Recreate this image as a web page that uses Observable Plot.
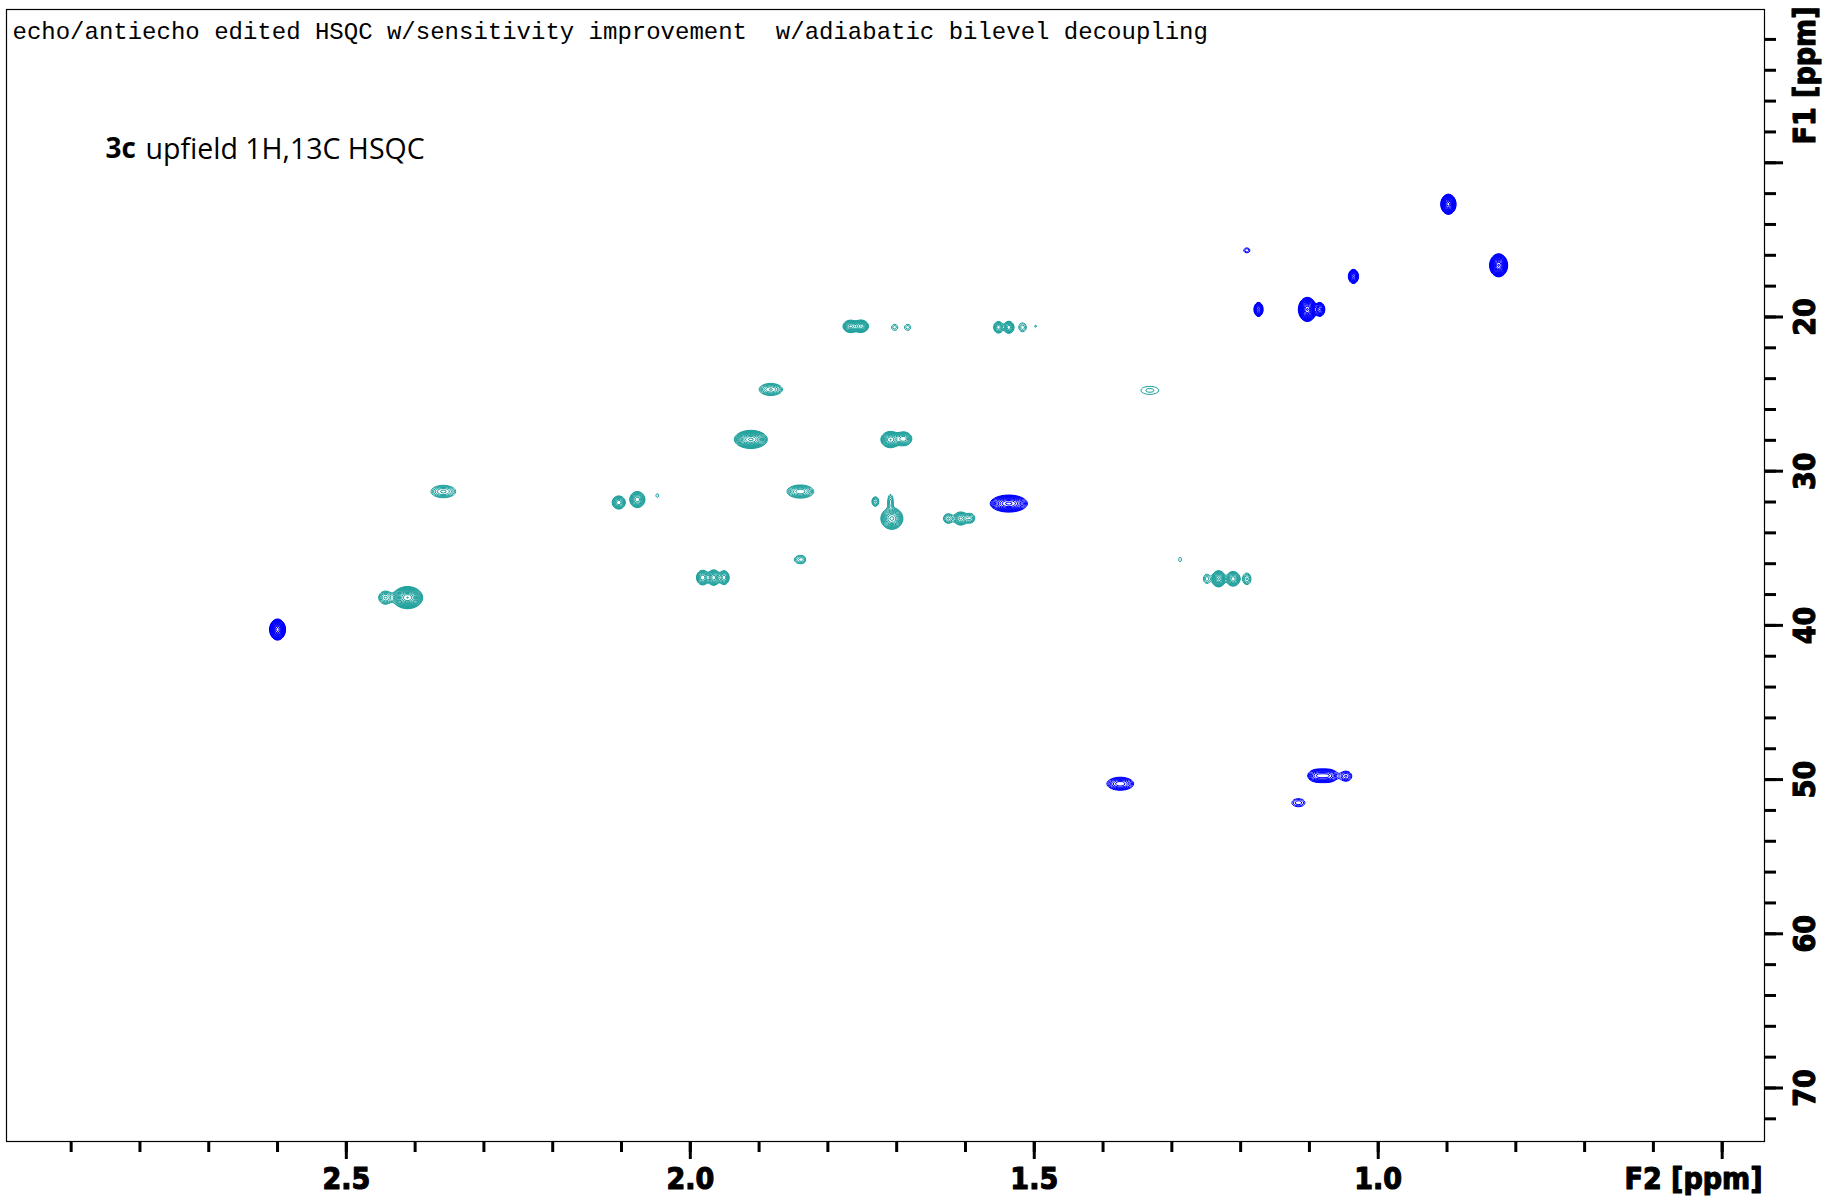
<!DOCTYPE html>
<html>
<head>
<meta charset="utf-8">
<script src="https://cdn.jsdelivr.net/npm/d3@7"></script>
<script src="https://cdn.jsdelivr.net/npm/@observablehq/plot@0.6"></script>
<style>
  html, body { margin: 0; padding: 0; background: #ffffff; }
  #chart svg { display: block; }
</style>
</head>
<body>
<div id="chart"></div>
<script>
// ---------------- data ----------------
// Peaks: [F2 1H ppm, F1 13C ppm, relative intensity, F2 width (ppm), F1 width (ppm)]
// positive phase (CH / CH3) – teal contours
const positivePeaks = [
  [1.767, 20.61, 12, 0.022, 0.80],
  [1.752, 20.60, 14, 0.022, 0.80],
  [1.703, 20.67, 1.5, 0.009, 0.39],
  [1.684, 20.67, 1.5, 0.009, 0.39],
  [1.552, 20.67, 6, 0.014, 0.75],
  [1.537, 20.67, 8, 0.015, 0.78],
  [1.517, 20.67, 2, 0.011, 0.58],
  [1.498, 20.60, 1.1, 0.003, 0.15],
  [1.883, 24.70, 5, 0.034, 0.78],
  [1.332, 24.76, 1.4, 0.026, 0.52],
  [1.912, 27.94, 25, 0.048, 1.17],
  [1.709, 27.95, 14, 0.028, 1.05],
  [1.690, 27.90, 8, 0.024, 0.90],
  [2.359, 31.32, 4, 0.036, 0.80],
  [2.104, 32.03, 8, 0.019, 0.85],
  [2.077, 31.84, 10, 0.022, 1.04],
  [2.048, 31.58, 1.2, 0.004, 0.25],
  [1.840, 31.32, 6, 0.039, 0.85],
  [1.731, 31.97, 3, 0.010, 0.62],
  [1.707, 33.07, 15, 0.032, 1.40],
  [1.709, 32.00, 2.5, 0.008, 1.00],
  [1.625, 33.07, 3, 0.014, 0.62],
  [1.607, 33.07, 7, 0.020, 0.85],
  [1.593, 33.05, 3, 0.013, 0.62],
  [1.844, 35.73, 1.6, 0.009, 0.40],
  [1.837, 35.73, 2, 0.009, 0.45],
  [1.288, 35.73, 1.3, 0.004, 0.30],
  [1.982, 36.90, 8, 0.018, 0.95],
  [1.966, 36.90, 10, 0.018, 1.00],
  [1.951, 36.90, 6, 0.015, 0.90],
  [1.249, 36.98, 2, 0.010, 0.60],
  [1.232, 36.98, 15, 0.020, 1.05],
  [1.211, 36.98, 10, 0.020, 0.95],
  [1.191, 36.98, 3, 0.012, 0.75],
  [2.411, 38.20, 40, 0.044, 1.43],
  [2.443, 38.20, 4, 0.020, 0.85]
];
// negative phase (CH2) – blue contours
const negativePeaks = [
  [0.898, 12.69, 60, 0.022, 1.30],
  [0.825, 16.65, 70, 0.026, 1.49],
  [1.191, 15.68, 1.6, 0.009, 0.32],
  [1.036, 17.37, 20, 0.0145, 0.91],
  [1.174, 19.51, 15, 0.013, 0.91],
  [1.103, 19.51, 70, 0.026, 1.56],
  [1.085, 19.51, 12, 0.0145, 0.90],
  [2.600, 40.27, 60, 0.023, 1.36],
  [1.537, 32.10, 15, 0.054, 1.10],
  [1.375, 50.27, 6, 0.039, 0.84],
  [1.088, 49.75, 6, 0.029, 0.84],
  [1.073, 49.75, 6, 0.029, 0.84],
  [1.047, 49.78, 3, 0.017, 0.65],
  [1.116, 51.50, 2, 0.019, 0.52]
];

// axes
const f2Domain = [2.994, 0.4385];
const f1Domain = [0.06, 73.47];
const xMajorTicks = [2.5, 2.0, 1.5, 1.0, 0.5];
const xMinorTicks = [2.9, 2.8, 2.7, 2.6, 2.5, 2.4, 2.3, 2.2, 2.1, 2.0, 1.9, 1.8, 1.7, 1.6, 1.5, 1.4, 1.3, 1.2, 1.1, 1.0, 0.9, 0.8, 0.7, 0.6, 0.5];
const xTickLabels = [2.5, 2.0, 1.5, 1.0];
const yMajorTicks = [10, 20, 30, 40, 50, 60, 70];
const yMinorTicks = [2, 4, 6, 8, 10, 12, 14, 16, 18, 20, 22, 24, 26, 28, 30, 32, 34, 36, 38, 40, 42, 44, 46, 48, 50, 52, 54, 56, 58, 60, 62, 64, 66, 68, 70, 72];
const yTickLabels = [20, 30, 40, 50, 60, 70];

const titleText = "echo/antiecho edited HSQC w/sensitivity improvement  w/adiabatic bilevel decoupling";
const panelBold = "3c";
const panelText = "upfield 1H,13C HSQC";

// contour levels (geometric, like the spectrometer software)
const baseLevel = 1;
const levelFactor = 1.3;
const levelCount = 20;
const levels = d3.range(levelCount).map(k => baseLevel * Math.pow(levelFactor, k));

const tealColor = "#22a29e";
const blueColor = "#0000ff";

// ---------------- spectrum model ----------------
function spectrum(peaks) {
  const P = peaks.map(([x, y, a, wx, wy]) => {
    const s = Math.sqrt(2 * Math.log(a / baseLevel));
    return {x, y, a, sx: wx / 2 / s, sy: wy / 2 / s};
  });
  return (px, py) => {
    let v = 0;
    for (const p of P) {
      const dx = (px - p.x) / p.sx;
      if (dx > 6 || dx < -6) continue;
      const dy = (py - p.y) / p.sy;
      if (dy > 6 || dy < -6) continue;
      v += p.a * Math.exp(-(dx * dx + dy * dy) / 2);
    }
    return v;
  };
}

const tickFont = "'DejaVu Sans Condensed', 'Liberation Sans Narrow', 'DejaVu Sans', sans-serif";
const tickText = {fontSize: 30, fontWeight: "bold", fontFamily: tickFont, fill: "#000000", stroke: "#000000", strokeWidth: 1.1};
const bounds = {x1: f2Domain[0], x2: f2Domain[1], y1: f1Domain[0], y2: f1Domain[1]};

const chart = Plot.plot({
  width: 1825,
  height: 1199,
  marginLeft: 6,
  marginTop: 9,
  marginRight: 61,
  marginBottom: 58,
  x: {domain: f2Domain},
  y: {domain: f1Domain, reverse: true},
  style: {background: "#ffffff", color: "#000000"},
  marks: [
    Plot.contour({...bounds, value: spectrum(positivePeaks), thresholds: levels, pixelSize: 1, fill: "none", stroke: tealColor, strokeWidth: 1}),
    Plot.contour({...bounds, value: spectrum(negativePeaks), thresholds: levels, pixelSize: 1, fill: "none", stroke: blueColor, strokeWidth: 1}),
    Plot.frame({stroke: "#000000", strokeWidth: 1.2}),
    Plot.axisX({ticks: xMinorTicks, anchor: "bottom", tickSize: 11, strokeWidth: 3, fill: "none", label: null}),
    Plot.axisX({ticks: xMajorTicks, anchor: "bottom", tickSize: 18, strokeWidth: 3, fill: "none", label: null}),
    Plot.axisY({ticks: yMinorTicks, anchor: "right", tickSize: 11, strokeWidth: 3, fill: "none", label: null}),
    Plot.axisY({ticks: yMajorTicks, anchor: "right", tickSize: 18, strokeWidth: 3, fill: "none", label: null}),
    Plot.text(xTickLabels, {x: d => d, frameAnchor: "bottom", dy: 38, text: d => d.toFixed(1), lineAnchor: "middle", ...tickText}),
    Plot.text(["F2 [ppm]"], {frameAnchor: "bottom-right", dy: 38, dx: -2, textAnchor: "end", lineAnchor: "middle", ...tickText}),
    Plot.text(yTickLabels, {y: d => d, frameAnchor: "right", dx: 41, rotate: -90, text: d => String(d), textAnchor: "middle", lineAnchor: "middle", ...tickText}),
    Plot.text(["F1 [ppm]"], {frameAnchor: "top-right", dx: 41, dy: -3, rotate: -90, textAnchor: "end", lineAnchor: "middle", ...tickText}),
    Plot.text([titleText], {frameAnchor: "top-left", dx: 6, dy: 22, textAnchor: "start", lineAnchor: "middle",
      fontSize: 24, fontFamily: "'Liberation Mono', 'DejaVu Sans Mono', monospace", fill: "#000000"}),
    Plot.text([panelBold], {frameAnchor: "top-left", dx: 99, dy: 140, textAnchor: "start", lineAnchor: "middle",
      fontSize: 28, fontWeight: "bold", fontFamily: "'Open Sans', sans-serif", fill: "#000000"}),
    Plot.text([panelText], {frameAnchor: "top-left", dx: 139, dy: 140, textAnchor: "start", lineAnchor: "middle",
      fontSize: 28.5, fontFamily: "'Open Sans', sans-serif", fill: "#000000"})
  ]
});
document.getElementById("chart").appendChild(chart);
</script>
</body>
</html>
